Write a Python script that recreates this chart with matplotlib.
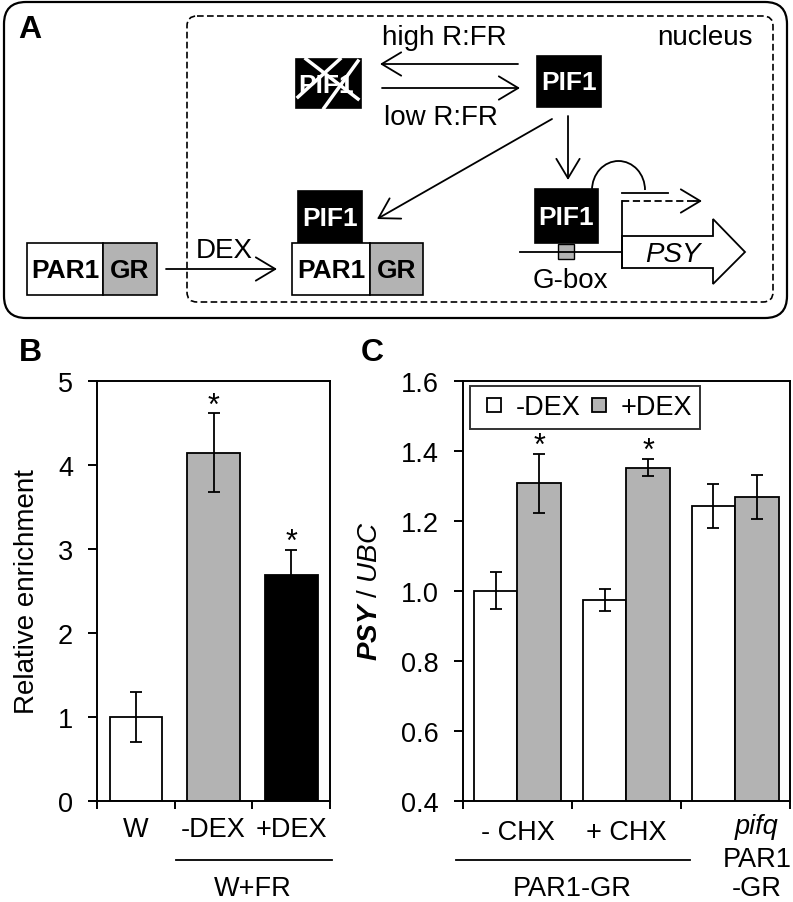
import numpy as np
import matplotlib.pyplot as plt
from matplotlib.patches import Rectangle, FancyBboxPatch, FancyArrowPatch, Polygon, Arc
from matplotlib.lines import Line2D
from matplotlib.ticker import FormatStrFormatter

plt.rcParams['font.family'] = ['Liberation Sans', 'DejaVu Sans']
plt.rcParams['mathtext.fontset'] = 'custom'
plt.rcParams['mathtext.rm'] = 'Liberation Sans'
plt.rcParams['mathtext.it'] = 'Liberation Sans:italic'
plt.rcParams['mathtext.bf'] = 'Liberation Sans:bold'
plt.rcParams['mathtext.bfit'] = 'Liberation Sans:bold:italic'

# ---- data, panel B
b_labels = ['W', '-DEX', '+DEX']
b_values = [1.00, 4.14, 2.69]
b_errors = [0.30, 0.47, 0.29]
b_colors = ['white', '#b3b3b3', 'black']
b_star = [False, True, True]

# ---- data, panel C
c_groups = ['- CHX', '+ CHX', '']
c_minus = [1.00, 0.973, 1.242]
c_minus_err = [0.053, 0.031, 0.062]
c_plus = [1.307, 1.352, 1.268]
c_plus_err = [0.084, 0.024, 0.063]
c_star = [True, True, False]
c_series = ['-DEX', '+DEX']

GRAY = '#b3b3b3'
W, H = 793, 903
fig = plt.figure(figsize=(W / 100, H / 100), dpi=100)

# panel A drawn on a pixel-coordinate overlay
a = fig.add_axes([0, 0, 1, 1])
a.set_xlim(0, W)
a.set_ylim(H, 0)
a.axis('off')

a.add_patch(FancyBboxPatch((4, 3), 783, 316, boxstyle='round,pad=0,rounding_size=22',
                           fc='none', ec='black', lw=1.6))
a.add_patch(FancyBboxPatch((187, 17), 586, 286, boxstyle='round,pad=0,rounding_size=10',
                           fc='none', ec='black', lw=1.2, ls=(0, (4, 2))))


def box(x0, y0, x1, y1, fc, txt=None, tc='black', lw=1.2):
    a.add_patch(Rectangle((x0, y0), x1 - x0, y1 - y0, fc=fc, ec='black', lw=lw))
    if txt:
        a.text((x0 + x1) / 2, (y0 + y1) / 2 + 1, txt, color=tc, fontsize=19,
               fontweight='bold', ha='center', va='center')


def arrow(p0, p1):
    a.add_patch(FancyArrowPatch(p0, p1, arrowstyle='->,head_length=0.5,head_width=0.3',
                                mutation_scale=28, lw=1.3, color='black',
                                shrinkA=0, shrinkB=0))


# crossed-out PIF1
box(296, 60, 361, 109, 'black')
a.text(326, 86, 'PIF1', color='white', fontsize=19, fontweight='bold', ha='center', va='center')
a.plot([306, 358], [60, 100], color='white', lw=2.5)
a.plot([358, 324], [62, 109], color='white', lw=2.5)
a.plot([298, 340], [98, 60], color='white', lw=2.5)

box(537, 57, 601, 108, 'black', 'PIF1', 'white')
box(298, 192, 362, 244, 'black', 'PIF1', 'white')
box(292, 244, 370, 296, 'white', 'PAR1')
box(370, 244, 423, 296, GRAY, 'GR')
box(27, 244, 103, 296, 'white', 'PAR1')
box(103, 244, 157, 296, GRAY, 'GR')

arrow((518, 65), (380, 65))
arrow((382, 89), (520, 89))
arrow((568, 117), (568, 181))
arrow((552, 120), (377, 220))
arrow((166, 270), (277, 270))

a.text(444, 45, 'high R:FR', fontsize=20, ha='center', va='baseline')
a.text(441, 125, 'low R:FR', fontsize=20, ha='center', va='baseline')
a.text(705, 45, 'nucleus', fontsize=20, ha='center', va='baseline')
a.text(224, 258, 'DEX', fontsize=20, ha='center', va='baseline')

# PSY gene with G-box
a.plot([520, 622], [253, 253], color='black', lw=1.3)
a.add_patch(Polygon([(622, 237), (713, 237), (713, 220), (745, 253), (713, 285),
                     (713, 269), (622, 269)], closed=True, fc='white', ec='black', lw=1.3))
a.plot([622, 622], [202, 269], color='black', lw=1.3)
a.plot([622, 698], [202, 202], color='black', lw=1.3, ls=(0, (4, 2)))
arrow((694, 202), (702, 202))
a.plot([622, 668], [194, 194], color='black', lw=1.3)
a.add_patch(Arc((618.5, 191), 53, 58, theta1=180, theta2=360, color='black', lw=1.3))
box(535, 190, 598, 244, 'black', 'PIF1', 'white')
a.add_patch(Rectangle((558, 245), 16, 15, fc=GRAY, ec='black', lw=1.0))
a.text(570, 288, 'G-box', fontsize=20, ha='center', va='baseline')
a.text(673, 262, 'PSY', fontsize=20, style='italic', ha='center', va='baseline')

fig.text(30 / W, 1 - 30 / H, 'A', fontsize=23, fontweight='bold', ha='center', va='center')
fig.text(30 / W, 1 - 353 / H, 'B', fontsize=23, fontweight='bold', ha='center', va='center')
fig.text(372 / W, 1 - 353 / H, 'C', fontsize=23, fontweight='bold', ha='center', va='center')


def style_axes(ax):
    for s in ax.spines.values():
        s.set_linewidth(1.4)
    ax.tick_params(axis='y', direction='out', length=6.5, width=1.4, pad=11, labelsize=19.5)
    ax.tick_params(axis='x', direction='out', length=5.8, width=1.4, labelbottom=False)


def under(ax, x, y_px, top_px, txt, **kw):
    y = (top_px - y_px) / 420
    ax.text(x, y, txt, transform=ax.get_xaxis_transform(), ha='center', va='center',
            fontsize=19.5, clip_on=False, **kw)


def stars(ax, xs, tops, flags):
    for x, t, s in zip(xs, tops, flags):
        if s:
            ax.annotate('*', (x, t), xytext=(0, 0), textcoords='offset points',
                        ha='center', va='baseline', fontsize=22)


# ---- panel B
axB = fig.add_axes([97.3 / W, 1 - 801.7 / H, 232.7 / W, 420 / H])
xb = np.arange(len(b_labels))
axB.bar(xb, b_values, width=0.68, color=b_colors, edgecolor='black', linewidth=1.3, zorder=2)
axB.errorbar(xb, b_values, yerr=b_errors, fmt='none', ecolor='black', elinewidth=1.3,
             capsize=4.5, capthick=1.3, zorder=3)
stars(axB, xb, np.add(b_values, b_errors), b_star)
axB.set_xlim(-0.5, 2.5)
axB.set_ylim(0, 5)
axB.set_yticks(range(6))
axB.set_xticks([-0.5, 0.5, 1.5, 2.5])
style_axes(axB)
axB.set_ylabel('Relative enrichment', fontsize=20)
axB.yaxis.set_label_coords(-0.246, 0.5)
for x, lab in zip(xb, b_labels):
    under(axB, x, 830, 801.7, lab)
axB.add_line(Line2D([0.514, 2.52], [-0.1405, -0.1405], transform=axB.get_xaxis_transform(),
                    color='black', lw=1.3, clip_on=False))
under(axB, 1.5, 889, 801.7, 'W+FR')

# ---- panel C
axC = fig.add_axes([463 / W, 1 - 801.7 / H, 326.7 / W, 420 / H])
xc = np.arange(len(c_groups))
axC.bar(xc - 0.2, c_minus, width=0.4, color='white', edgecolor='black',
        linewidth=1.3, zorder=2, label=c_series[0])
axC.bar(xc + 0.2, c_plus, width=0.4, color=GRAY, edgecolor='black',
        linewidth=1.3, zorder=2, label=c_series[1])
axC.errorbar(xc - 0.2, c_minus, yerr=c_minus_err, fmt='none', ecolor='black', elinewidth=1.3,
             capsize=4.5, capthick=1.3, zorder=3)
axC.errorbar(xc + 0.2, c_plus, yerr=c_plus_err, fmt='none', ecolor='black', elinewidth=1.3,
             capsize=4.5, capthick=1.3, zorder=3)
stars(axC, xc + 0.2, np.add(c_plus, c_plus_err), c_star)
axC.set_xlim(-0.5, 2.5)
axC.set_ylim(0.4, 1.6)
axC.set_yticks(np.arange(0.4, 1.61, 0.2))
axC.yaxis.set_major_formatter(FormatStrFormatter('%.1f'))
axC.set_xticks([-0.5, 0.5, 1.5, 2.5])
style_axes(axC)
axC.set_ylabel(r'$\mathbfit{PSY}$ / $\mathit{UBC}$', fontsize=20)
axC.yaxis.set_label_coords(-0.245, 0.5)
for x, lab in zip(xc, c_groups):
    if lab:
        under(axC, x, 833, 801.7, lab)
axC.add_line(Line2D([-0.564, 1.584], [-0.1405, -0.1405], transform=axC.get_xaxis_transform(),
                    color='black', lw=1.3, clip_on=False))
under(axC, 0.5, 889, 801.7, 'PAR1-GR')
under(axC, 2.2, 827, 801.7, 'pifq', style='italic')
under(axC, 2.2, 860, 801.7, 'PAR1')
under(axC, 2.2, 889, 801.7, '-GR')

handles = [Line2D([], [], ls='none', marker='s', markersize=10, mfc=c, mec='black', mew=1.3)
           for c in ['white', GRAY]]
leg = axC.legend(handles, c_series, loc='upper left', bbox_to_anchor=(0.0214, 0.9867),
                 ncol=2, fontsize=19.5, frameon=True, fancybox=False, borderpad=0.3,
                 handlelength=1.2, handletextpad=0.2, columnspacing=0.05, borderaxespad=0)
leg.get_frame().set_edgecolor('black')
leg.get_frame().set_linewidth(1.4)

fig.savefig('out.png', dpi=100)
